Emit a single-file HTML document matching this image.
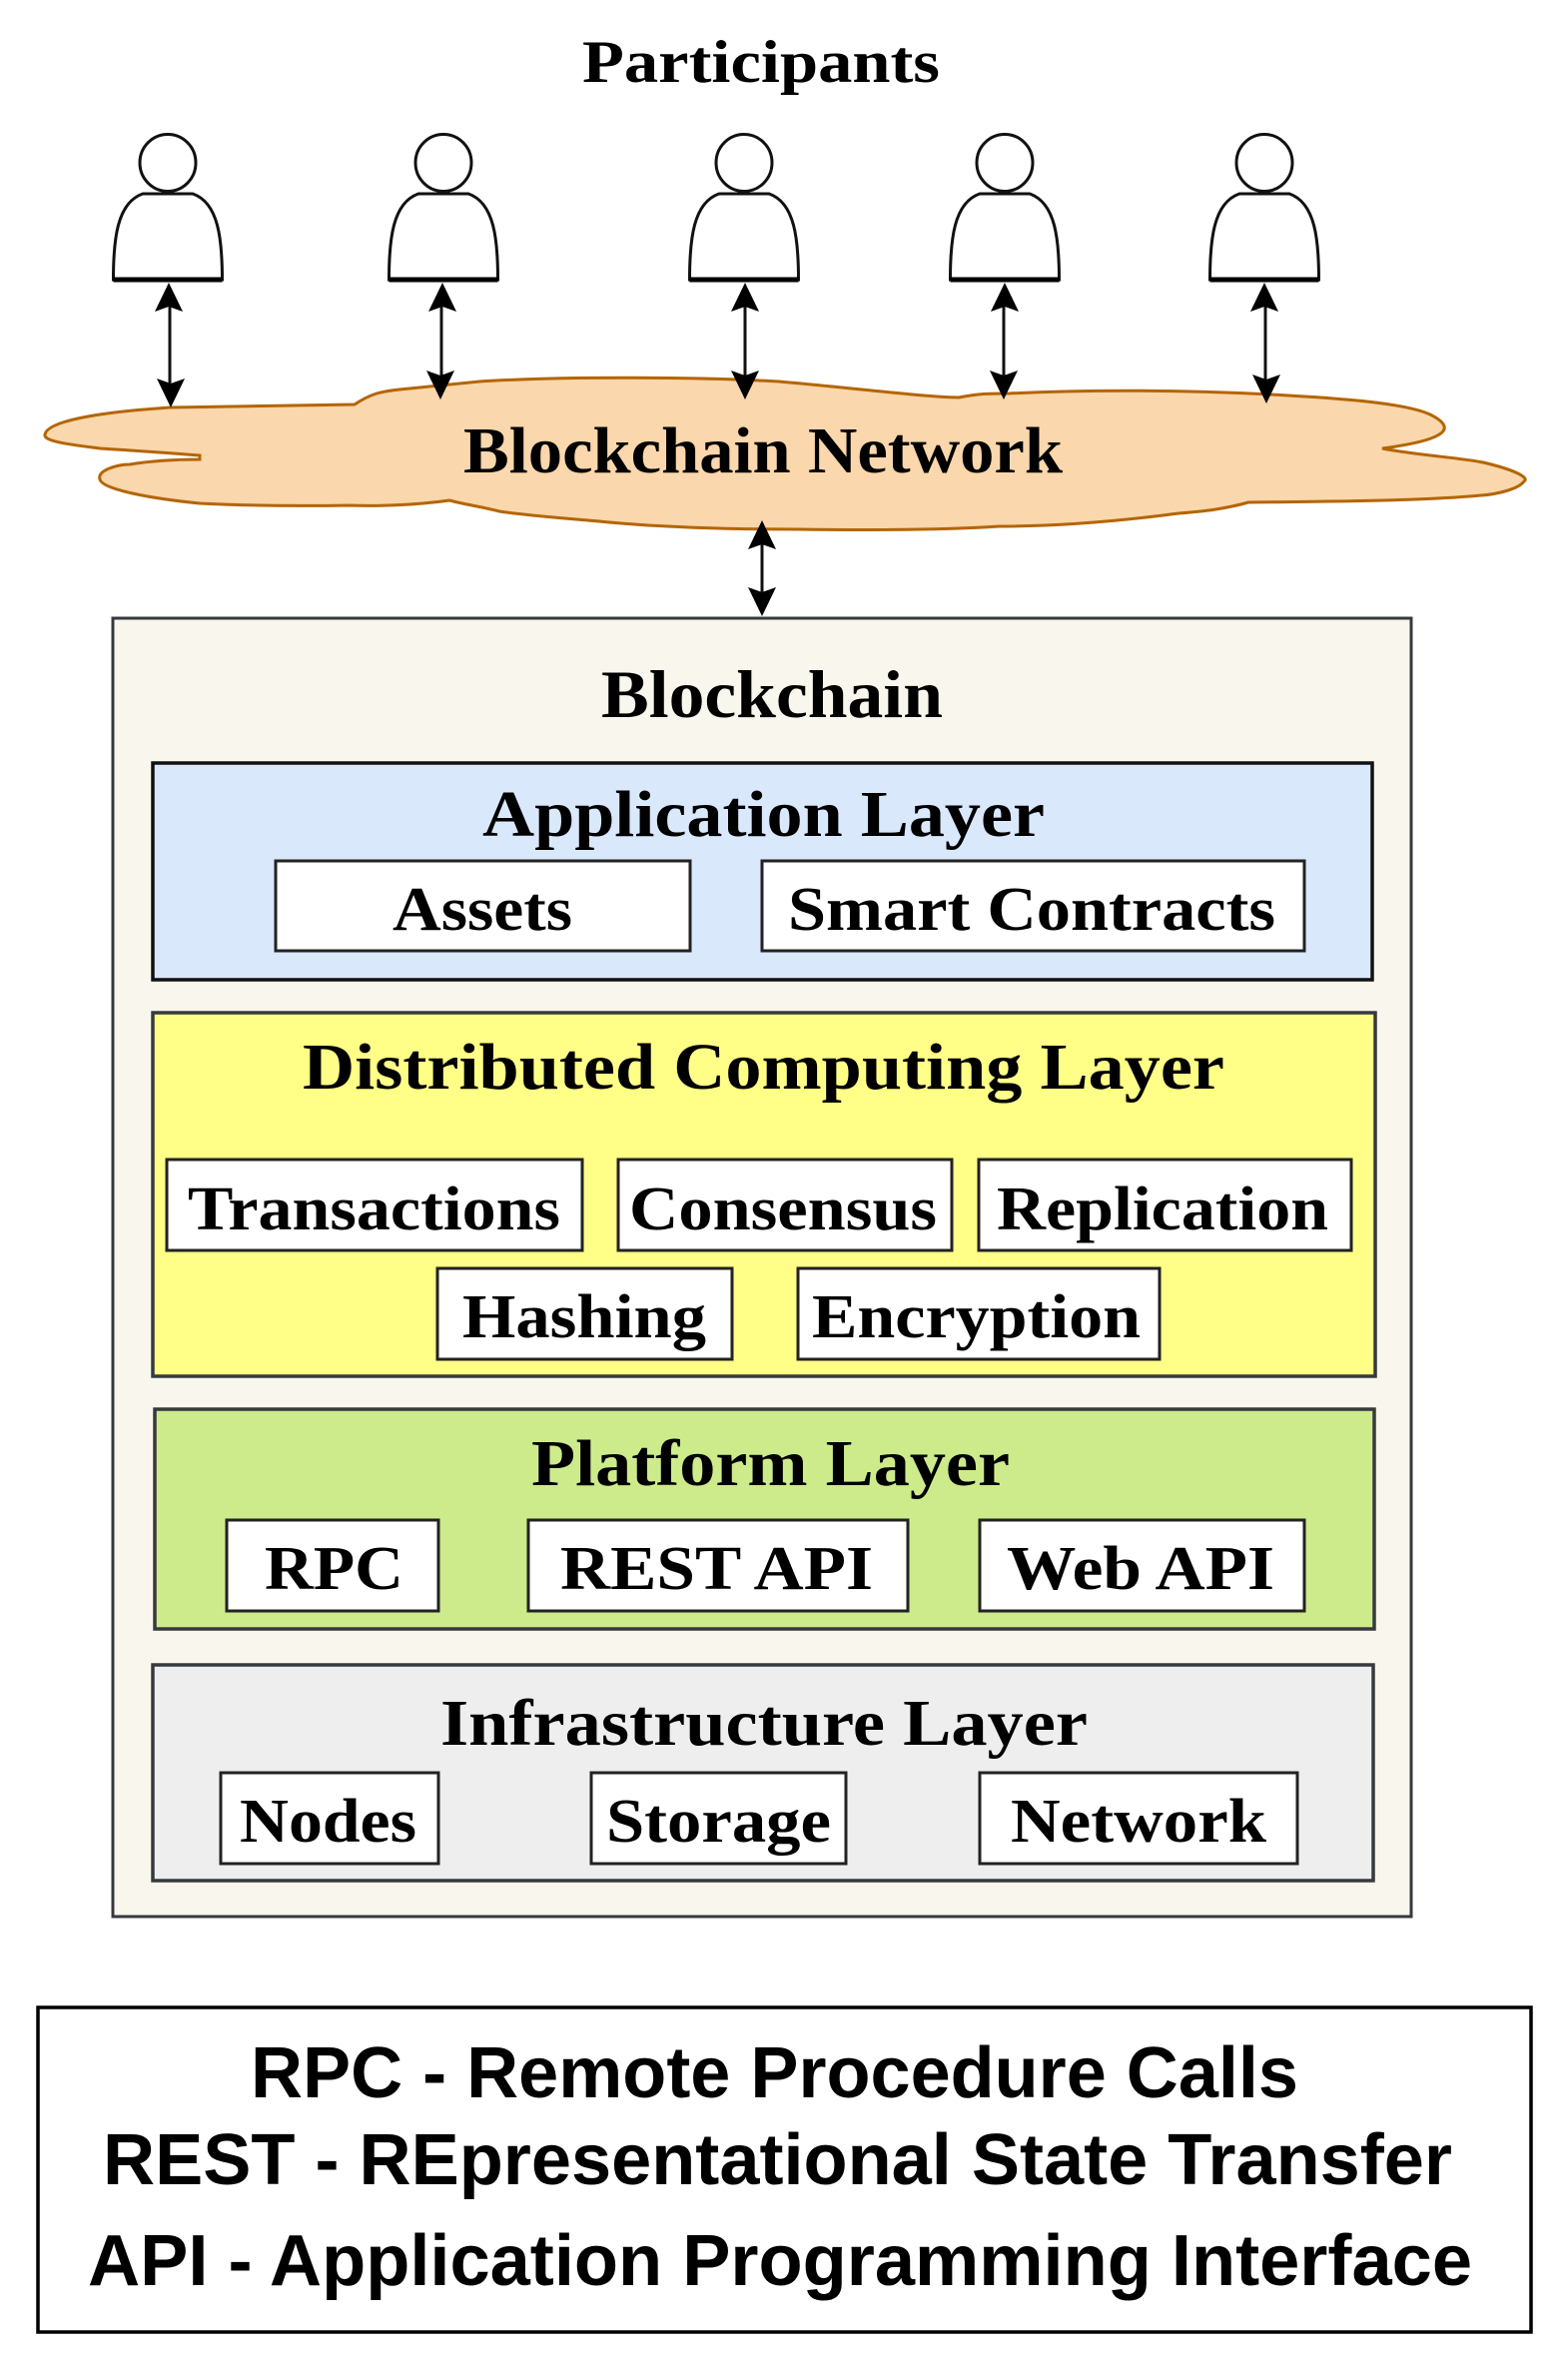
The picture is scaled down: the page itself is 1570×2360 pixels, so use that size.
<!DOCTYPE html>
<html><head><meta charset="utf-8"><style>
html,body{margin:0;padding:0;background:#fff}
svg{display:block}
.s{font-family:"Liberation Serif",serif;font-weight:bold;fill:#000}
.a{font-family:"Liberation Sans",sans-serif;font-weight:bold;fill:#000}
.b{fill:#fff;stroke:#222;stroke-width:3}
.t{font-size:66px}.u{font-size:62px}
.l{stroke:#111;stroke-width:3;fill:none}
.h{fill:#000}
.p{fill:#fff;stroke:#111;stroke-width:3}
</style></head><body>
<svg xmlns="http://www.w3.org/2000/svg" width="1570" height="2360" viewBox="0 0 1570 2360">
<rect width="1570" height="2360" fill="#fff"/>
<text class="s" x="583" y="82" font-size="60" textLength="358" lengthAdjust="spacingAndGlyphs">Participants</text>

<defs>
<g id="person">
<ellipse cx="0" cy="163" rx="28" ry="28.500" class="p"/>
<path class="p" d="M-54.500 280 C-54.500 240 -51 203 -25 194 L25 194 C51 203 54.500 240 54.500 280 Z"/>
<path d="M-54.500 280H54.500" stroke="#000" stroke-width="5"/>
</g>
<g id="up"><path class="h" d="M0 0 L-14 29 L0 24 L14 29 Z"/></g>
<g id="dn"><path class="h" d="M0 0 L-14 -29 L0 -24 L14 -29 Z"/></g>
</defs>
<use href="#person" x="168"/>
<use href="#person" x="444"/>
<use href="#person" x="745"/>
<use href="#person" x="1006"/>
<use href="#person" x="1266"/>

<path d="M45 435 C48 420 110 412 170 408 L355 405 C370 395 380 392 400 390 L480 382 C555 377 695 377 780 382 C850 388 920 397 960 398 C980 394 990 394 1010 394 C1090 390 1190 390 1290 396 C1360 400 1410 405 1432 415 C1458 428 1452 440 1384 449 C1420 456 1460 458 1485 463 C1515 470 1532 478 1526 482 C1520 490 1498 495 1483 496 C1430 501 1350 502 1250 503 C1225 510 1205 512 1180 514 C1120 522 1060 527 1000 527 C940 531 870 531 800 530 C720 530 650 527 600 522 C555 518 525 516 500 512 C485 508 465 505 450 501 C415 506 375 507 350 506 C295 507 240 506 200 504 C150 499 102 490 100 480 C97 470 120 465 130 465 C148 462 175 460 200 460 L200 456 C150 452 115 450 100 449 C70 445 43 442 45 435Z" fill="#fad7ac" stroke="#b46504" stroke-width="3"/>
<text class="s t" x="464" y="473" textLength="600" lengthAdjust="spacingAndGlyphs">Blockchain Network</text>

<!-- arrows -->
<g>
<line class="l" x1="170" y1="290" x2="170" y2="400"/><use href="#up" x="169" y="283"/><use href="#dn" x="171" y="408"/>
<line class="l" x1="442" y1="290" x2="442" y2="392"/><use href="#up" x="443" y="283"/><use href="#dn" x="441" y="400"/>
<line class="l" x1="746" y1="290" x2="746" y2="392"/><use href="#up" x="746" y="283"/><use href="#dn" x="746" y="400"/>
<line class="l" x1="1005" y1="290" x2="1005" y2="392"/><use href="#up" x="1006" y="283"/><use href="#dn" x="1005" y="400"/>
<line class="l" x1="1267" y1="290" x2="1267" y2="396"/><use href="#up" x="1266" y="283"/><use href="#dn" x="1268" y="404"/>
<line class="l" x1="763" y1="528" x2="763" y2="610"/><use href="#up" x="763" y="521"/><use href="#dn" x="763" y="617"/>
</g>

<rect x="113" y="619" width="1300" height="1300" fill="#f9f7ed" stroke="#36393d" stroke-width="3"/>
<text class="s" x="602" y="718" font-size="68" textLength="342" lengthAdjust="spacingAndGlyphs">Blockchain</text>

<rect x="153" y="764" width="1221" height="217" fill="#dae8fc" stroke="#111" stroke-width="3.500"/>
<text class="s t" x="483" y="837" textLength="563" lengthAdjust="spacingAndGlyphs">Application Layer</text>
<rect class="b" x="276" y="862" width="415" height="90"/>
<text class="s u" x="393" y="931" textLength="180" lengthAdjust="spacingAndGlyphs">Assets</text>
<rect class="b" x="763" y="862" width="543" height="90"/>
<text class="s u" x="789" y="931" textLength="488" lengthAdjust="spacingAndGlyphs">Smart Contracts</text>

<rect x="153" y="1014" width="1224" height="364" fill="#ffff88" stroke="#36393d" stroke-width="3.500"/>
<text class="s t" x="303" y="1090" textLength="923" lengthAdjust="spacingAndGlyphs">Distributed Computing Layer</text>
<rect class="b" x="167" y="1161" width="416" height="91"/>
<text class="s u" x="188" y="1231" textLength="373" lengthAdjust="spacingAndGlyphs">Transactions</text>
<rect class="b" x="619" y="1161" width="334" height="91"/>
<text class="s u" x="630" y="1231" textLength="308" lengthAdjust="spacingAndGlyphs">Consensus</text>
<rect class="b" x="980" y="1161" width="373" height="91"/>
<text class="s u" x="998" y="1231" textLength="332" lengthAdjust="spacingAndGlyphs">Replication</text>
<rect class="b" x="438" y="1270" width="295" height="91"/>
<text class="s u" x="463" y="1339" textLength="244" lengthAdjust="spacingAndGlyphs">Hashing</text>
<rect class="b" x="799" y="1270" width="362" height="91"/>
<text class="s u" x="813" y="1339" textLength="329" lengthAdjust="spacingAndGlyphs">Encryption</text>

<rect x="155" y="1411" width="1221" height="220" fill="#cdeb8b" stroke="#36393d" stroke-width="3.500"/>
<text class="s t" x="532" y="1487" textLength="479" lengthAdjust="spacingAndGlyphs">Platform Layer</text>
<rect class="b" x="227" y="1522" width="212" height="91"/>
<text class="s u" x="265" y="1591" textLength="139" lengthAdjust="spacingAndGlyphs">RPC</text>
<rect class="b" x="529" y="1522" width="380" height="91"/>
<text class="s u" x="561" y="1591" textLength="313" lengthAdjust="spacingAndGlyphs">REST API</text>
<rect class="b" x="981" y="1522" width="325" height="91"/>
<text class="s u" x="1008" y="1591" textLength="268" lengthAdjust="spacingAndGlyphs">Web API</text>

<rect x="153" y="1667" width="1222" height="216" fill="#eeeeee" stroke="#36393d" stroke-width="3.500"/>
<text class="s t" x="441" y="1747" textLength="648" lengthAdjust="spacingAndGlyphs">Infrastructure Layer</text>
<rect class="b" x="221" y="1775" width="218" height="91"/>
<text class="s u" x="240" y="1844" textLength="177" lengthAdjust="spacingAndGlyphs">Nodes</text>
<rect class="b" x="592" y="1775" width="255" height="91"/>
<text class="s u" x="607" y="1844" textLength="225" lengthAdjust="spacingAndGlyphs">Storage</text>
<rect class="b" x="981" y="1775" width="318" height="91"/>
<text class="s u" x="1012" y="1844" textLength="256" lengthAdjust="spacingAndGlyphs">Network</text>

<rect x="38" y="2010" width="1495" height="325" fill="#fff" stroke="#000" stroke-width="3.500"/>
<text class="a" x="251" y="2100" font-size="72" textLength="1049" lengthAdjust="spacingAndGlyphs">RPC - Remote Procedure Calls</text>
<text class="a" x="103" y="2187" font-size="72" textLength="1351" lengthAdjust="spacingAndGlyphs">REST - REpresentational State Transfer</text>
<text class="a" x="88" y="2288" font-size="72" textLength="1386" lengthAdjust="spacingAndGlyphs">API - Application Programming Interface</text>
</svg>
</body></html>
